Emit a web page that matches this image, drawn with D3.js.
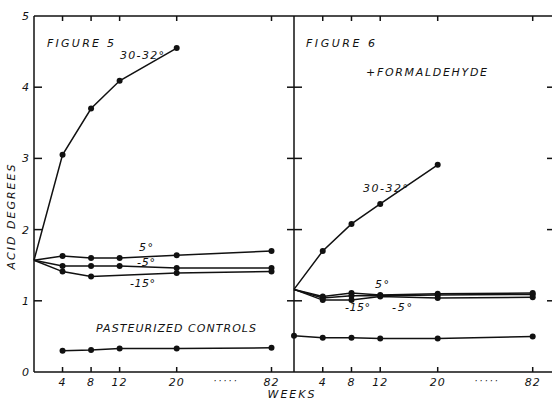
<!DOCTYPE html>
<html>
<head>
<meta charset="utf-8">
<script src="https://cdn.jsdelivr.net/npm/d3@7"></script>
<style>
  html, body { margin: 0; padding: 0; background: #fff; }
  svg { display: block; }
  text { font-family: "DejaVu Sans", sans-serif; font-style: italic; fill: #111; }
</style>
</head>
<body>
<svg id="chart" width="552" height="401"></svg>
<script>
// Sampling weeks (82 sits after a broken stretch of the axis)
const weeks = [0, 4, 8, 12, 20, 82];
const weekTickLabels = ["4", "8", "12", "20", "82"];
const acidTicks = [0, 1, 2, 3, 4, 5];

// Figure 5: acid degrees by storage temperature (null = not sampled)
const fig5_30to32 = [1.57, 3.05, 3.70, 4.09, 4.55, null];
const fig5_5 = [1.57, 1.63, 1.60, 1.60, 1.64, 1.70];
const fig5_minus5 = [1.57, 1.49, 1.49, 1.49, 1.46, 1.46];
const fig5_minus15 = [1.57, 1.41, 1.34, null, 1.39, 1.41];
const fig5_controls = [null, 0.30, 0.31, 0.33, 0.33, 0.34];

// Figure 6: same storage temperatures, with formaldehyde added
const fig6_30to32 = [1.16, 1.70, 2.08, 2.36, 2.91, null];
const fig6_5 = [1.16, 1.06, 1.11, 1.08, 1.10, 1.11];
const fig6_minus5 = [1.16, 1.04, 1.07, 1.07, 1.08, 1.09];
const fig6_minus15 = [1.16, 1.01, 1.01, 1.06, 1.04, 1.05];
const fig6_controls = [0.51, 0.48, 0.48, 0.47, 0.47, 0.50];

const svg = d3.select("#chart");
const plotTop = 16, plotBottom = 372;
const y = d3.scaleLinear().domain([0, 5]).range([plotBottom, plotTop]);

// Piecewise week scales: linear up to 20, then compressed to 82
const xL = d3.scaleLinear().domain([0, 20, 82]).range([34, 176.7, 271.5]);
const xR = d3.scaleLinear().domain([0, 20, 82]).range([294, 437.7, 532.7]);
const divider = 294, rightEdge = 553;

const ink = "#111";
const frame = svg.append("g").attr("stroke", ink).attr("stroke-width", 1.5).attr("fill", "none");

// Frame lines
frame.append("line").attr("x1", xL(0)).attr("x2", rightEdge).attr("y1", plotTop).attr("y2", plotTop);
frame.append("line").attr("x1", xL(0)).attr("x2", rightEdge).attr("y1", plotBottom).attr("y2", plotBottom);
frame.append("line").attr("x1", xL(0)).attr("x2", xL(0)).attr("y1", plotTop).attr("y2", plotBottom);
frame.append("line").attr("x1", divider).attr("x2", divider).attr("y1", plotTop).attr("y2", plotBottom);

// Week ticks on top and bottom of both panels
const tickWeeks = weeks.slice(1);
[xL, xR].forEach(x => {
  tickWeeks.forEach(w => {
    frame.append("line").attr("x1", x(w)).attr("x2", x(w)).attr("y1", plotTop).attr("y2", plotTop + 5);
    frame.append("line").attr("x1", x(w)).attr("x2", x(w)).attr("y1", plotBottom).attr("y2", plotBottom - 5);
  });
});

// Acid-degree ticks: inner left axis, both sides of the divider, right edge
acidTicks.filter(v => v > 0 && v < 5).forEach(v => {
  frame.append("line").attr("x1", xL(0)).attr("x2", xL(0) + 8).attr("y1", y(v)).attr("y2", y(v));
  frame.append("line").attr("x1", divider - 7).attr("x2", divider + 8).attr("y1", y(v)).attr("y2", y(v));
  frame.append("line").attr("x1", rightEdge - 6).attr("x2", rightEdge).attr("y1", y(v)).attr("y2", y(v));
});

// Y tick labels
svg.append("g").selectAll("text").data(acidTicks).join("text")
  .attr("x", xL(0) - 5).attr("y", d => y(d) + 4)
  .attr("text-anchor", "end").attr("font-size", 11)
  .text(d => d);

// X tick labels for both panels
[xL, xR].forEach(x => {
  svg.append("g").selectAll("text").data(tickWeeks).join("text")
    .attr("x", d => x(d)).attr("y", 386)
    .attr("text-anchor", "middle").attr("font-size", 11).attr("letter-spacing", 1)
    .text((d, i) => weekTickLabels[i]);
  svg.append("text").attr("x", (x(20) + x(82)) / 2 + 2).attr("y", 384)
    .attr("text-anchor", "middle").attr("font-size", 9).attr("letter-spacing", 2.2)
    .text("·····");
});

// Axis titles
svg.append("text").attr("x", 292).attr("y", 398).attr("text-anchor", "middle")
  .attr("font-size", 11).attr("letter-spacing", 2).text("WEEKS");
svg.append("text").attr("transform", "translate(15,216) rotate(-90)")
  .attr("text-anchor", "middle").attr("font-size", 11).attr("letter-spacing", 2)
  .text("ACID DEGREES");

// Series drawing; the shared starting value is left without a dot
const line = d3.line().x(d => d.x).y(d => d.y);
function drawSeries(x, values, dotAtStart) {
  const pts = weeks.map((w, i) => ({ w, v: values[i] }))
    .filter(d => d.v !== null)
    .map(d => ({ x: x(d.w), y: y(d.v), w: d.w }));
  svg.append("path").attr("d", line(pts))
    .attr("fill", "none").attr("stroke", ink).attr("stroke-width", 1.5);
  svg.append("g").selectAll("circle").data(pts.filter(p => p.w > 0 || dotAtStart)).join("circle")
    .attr("cx", d => d.x).attr("cy", d => d.y).attr("r", 3).attr("fill", ink);
}
[fig5_30to32, fig5_5, fig5_minus5, fig5_minus15, fig5_controls].forEach(s => drawSeries(xL, s, false));
[fig6_30to32, fig6_5, fig6_minus5, fig6_minus15].forEach(s => drawSeries(xR, s, false));
drawSeries(xR, fig6_controls, true);

// In-plot annotations
function label(x, yy, txt, size, len) {
  const t = svg.append("text").attr("x", x).attr("y", yy).attr("font-size", size).text(txt);
  if (len) t.attr("textLength", len).attr("lengthAdjust", "spacing");
  return t;
}
label(47, 47, "FIGURE 5", 11, 67);
label(120, 59, "30-32°", 11, 44);
label(139, 251, "5°", 11, 14);
label(137, 266, "-5°", 11, 18);
label(130, 287, "-15°", 11, 25);
label(96, 332, "PASTEURIZED CONTROLS", 11, 160);
label(306, 47, "FIGURE 6", 11, 69);
label(366, 76, "+FORMALDEHYDE", 11, 121);
label(363, 192, "30-32°", 11, 45);
label(375, 288, "5°", 11, 14);
label(345, 311, "-15°", 11, 25);
label(392, 311, "-5°", 11, 20);
</script>
</body>
</html>
